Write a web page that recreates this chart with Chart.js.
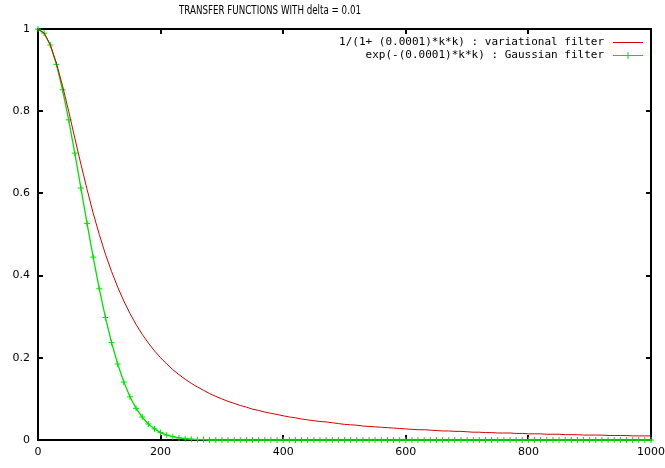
<!DOCTYPE html>
<html>
<head>
<meta charset="utf-8">
<script src="https://cdn.jsdelivr.net/npm/chart.js@4/dist/chart.umd.min.js"></script>
<style>
html,body{margin:0;padding:0;background:#fff;}
#wrap{width:665px;height:468px;position:relative;}
</style>
</head>
<body>
<div id="wrap"><canvas id="c" width="665" height="468"></canvas></div>
<script>
const titleText = "TRANSFER FUNCTIONS WITH delta = 0.01";
const kValues = [0,10,20,30,40,50,60,70,80,90,100,110,120,130,140,150,160,170,180,190,200,
210,220,230,240,250,260,270,280,290,300,310,320,330,340,350,360,370,380,390,400,
410,420,430,440,450,460,470,480,490,500,510,520,530,540,550,560,570,580,590,600,
610,620,630,640,650,660,670,680,690,700,710,720,730,740,750,760,770,780,790,800,
810,820,830,840,850,860,870,880,890,900,910,920,930,940,950,960,970,980,990,1000];
const variationalLabel = "1/(1+ (0.0001)*k*k) : variational filter";
const variationalValues = [1,0.990,0.962,0.917,0.862,0.800,0.735,0.671,0.610,0.552,0.500,
0.452,0.410,0.372,0.338,0.308,0.281,0.257,0.236,0.217,0.200,
0.185,0.171,0.159,0.148,0.138,0.129,0.121,0.113,0.106,0.100,
0.094,0.089,0.084,0.080,0.075,0.072,0.068,0.065,0.062,0.059,
0.056,0.054,0.051,0.049,0.047,0.045,0.044,0.042,0.040,0.038,
0.037,0.036,0.034,0.033,0.032,0.031,0.030,0.029,0.028,0.027,
0.026,0.025,0.025,0.024,0.023,0.022,0.022,0.021,0.021,0.020,
0.019,0.019,0.018,0.018,0.017,0.017,0.017,0.016,0.016,0.015,
0.015,0.015,0.014,0.014,0.014,0.013,0.013,0.013,0.012,0.012,
0.012,0.012,0.011,0.011,0.011,0.011,0.010,0.010,0.010,0.0099];
const gaussianLabel = "exp(-(0.0001)*k*k) : Gaussian filter";
const gaussianValues = [1,0.990,0.961,0.914,0.852,0.779,0.698,0.613,0.527,0.445,0.368,
0.298,0.237,0.185,0.141,0.105,0.077,0.056,0.039,0.027,0.018,
0.012,0.008,0.005,0.003,0.002,0.001,0.001,0,0,0,
0,0,0,0,0,0,0,0,0,0,
0,0,0,0,0,0,0,0,0,0,
0,0,0,0,0,0,0,0,0,0,
0,0,0,0,0,0,0,0,0,0,
0,0,0,0,0,0,0,0,0,0,
0,0,0,0,0,0,0,0,0,0,
0,0,0,0,0,0,0,0,0,0];
const xTicks = [0,200,400,600,800,1000];
const yTicks = [0,0.2,0.4,0.6,0.8,1];

const RED = "rgb(214,0,0)";
const GREEN = "rgb(0,225,0)";

const gnuplotDeco = {
  id: "gnuplotDeco",
  beforeDatasetsDraw(chart) {
    const ctx = chart.ctx, a = chart.chartArea;
    const xs = chart.scales.x, ys = chart.scales.y;
    ctx.save();
    ctx.strokeStyle = "#000";
    ctx.lineWidth = 2;
    ctx.strokeRect(a.left, a.top, a.right - a.left, a.bottom - a.top);
    ctx.beginPath();
    const tl = 5;
    xTicks.forEach(v => {
      const px = Math.round(xs.getPixelForValue(v));
      ctx.moveTo(px, a.bottom); ctx.lineTo(px, a.bottom - tl);
      ctx.moveTo(px, a.top); ctx.lineTo(px, a.top + tl);
    });
    yTicks.forEach(v => {
      const py = Math.round(ys.getPixelForValue(v));
      ctx.moveTo(a.left, py); ctx.lineTo(a.left + tl, py);
      ctx.moveTo(a.right, py); ctx.lineTo(a.right - tl, py);
    });
    ctx.stroke();
    ctx.restore();
  },
  afterDraw(chart) {
    const ctx = chart.ctx;
    ctx.save();
    // title (condensed)
    ctx.font = "13px 'DejaVu Sans'";
    ctx.fillStyle = "#000";
    ctx.textBaseline = "middle";
    const w = ctx.measureText(titleText).width;
    const target = 182;
    ctx.translate(270 - target / 2, 11);
    ctx.scale(target / w, 1);
    ctx.textAlign = "left";
    ctx.fillText(titleText, 0, 0);
    ctx.restore();
    // legend
    ctx.save();
    ctx.font = "11px 'DejaVu Sans Mono'";
    ctx.fillStyle = "#000";
    ctx.textAlign = "right";
    ctx.textBaseline = "middle";
    const ds = chart.data.datasets;
    const rows = [42, 55];
    ds.forEach((d, i) => {
      const y = rows[i];
      ctx.fillText(d.label, 604, y);
      ctx.strokeStyle = d.borderColor;
      ctx.lineWidth = 1;
      ctx.beginPath();
      ctx.moveTo(613, y + 0.5); ctx.lineTo(643, y + 0.5);
      ctx.stroke();
      if (i === 1) {
        ctx.beginPath();
        ctx.moveTo(628, y - 3); ctx.lineTo(628, y + 4);
        ctx.stroke();
      }
    });
    ctx.restore();
  }
};

new Chart(document.getElementById("c"), {
  type: "line",
  data: {
    datasets: [
      {
        label: variationalLabel,
        data: kValues.map((k, i) => ({x: k, y: variationalValues[i]})),
        borderColor: RED,
        backgroundColor: RED,
        borderWidth: 1,
        pointRadius: 0,
        tension: 0,
        clip: 4
      },
      {
        label: gaussianLabel,
        data: kValues.map((k, i) => ({x: k, y: gaussianValues[i]})),
        borderColor: GREEN,
        backgroundColor: GREEN,
        borderWidth: 1.3,
        pointStyle: "cross",
        pointRadius: 3,
        pointBorderWidth: 1,
        pointBorderColor: GREEN,
        tension: 0,
        clip: 6
      }
    ]
  },
  plugins: [gnuplotDeco],
  options: {
    responsive: false,
    animation: false,
    devicePixelRatio: 1,
    layout: {padding: {top: 29, right: 14, left: 0, bottom: 0}},
    plugins: {
      legend: {display: false},
      title: {display: false},
      tooltip: {enabled: false}
    },
    scales: {
      x: {
        type: "linear",
        min: 0, max: 1000,
        afterBuildTicks: s => { s.ticks = xTicks.map(v => ({value: v})); },
        afterFit: s => { s.height = 28; s.paddingLeft = 0; s.paddingRight = 0; },
        grid: {display: false, drawTicks: false},
        border: {display: false},
        ticks: {
          color: "#000",
          font: {family: "DejaVu Sans", size: 11},
          padding: 6,
          maxRotation: 0,
          autoSkip: false,
          callback: v => String(v)
        }
      },
      y: {
        type: "linear",
        min: 0, max: 1,
        afterBuildTicks: s => { s.ticks = yTicks.map(v => ({value: v})); },
        afterFit: s => { s.width = 38; s.paddingTop = 0; s.paddingBottom = 0; },
        grid: {display: false, drawTicks: false},
        border: {display: false},
        ticks: {
          color: "#000",
          font: {family: "DejaVu Sans", size: 11},
          padding: 8,
          autoSkip: false,
          callback: v => String(+v.toFixed(1))
        }
      }
    }
  }
});
</script>
</body>
</html>
